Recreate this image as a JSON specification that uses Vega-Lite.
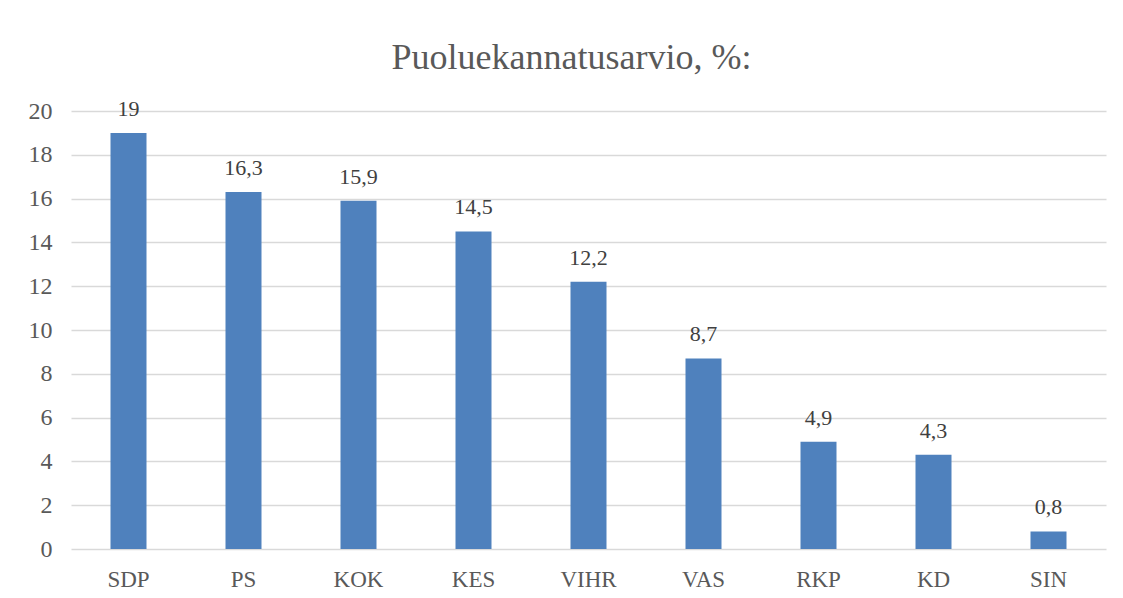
{
  "$schema": "https://vega.github.io/schema/vega-lite/v6.json",
  "width": 1035,
  "height": 438,
  "autosize": "none",
  "padding": {"left": 71, "top": 111, "right": 17, "bottom": 49},
  "background": "white",
  "title": {
    "text": "Puoluekannatusarvio, %:",
    "font": "Liberation Serif",
    "fontSize": 36,
    "fontWeight": "normal",
    "color": "#595959",
    "anchor": "middle",
    "baseline": "alphabetic",
    "offset": -7,
    "dx": -17
  },
  "data": {
    "values": [
      {"puolue": "SDP", "arvo": 19, "label": "19"},
      {"puolue": "PS", "arvo": 16.3, "label": "16,3"},
      {"puolue": "KOK", "arvo": 15.9, "label": "15,9"},
      {"puolue": "KES", "arvo": 14.5, "label": "14,5"},
      {"puolue": "VIHR", "arvo": 12.2, "label": "12,2"},
      {"puolue": "VAS", "arvo": 8.7, "label": "8,7"},
      {"puolue": "RKP", "arvo": 4.9, "label": "4,9"},
      {"puolue": "KD", "arvo": 4.3, "label": "4,3"},
      {"puolue": "SIN", "arvo": 0.8, "label": "0,8"}
    ]
  },
  "encoding": {
    "x": {
      "field": "puolue",
      "type": "nominal",
      "sort": null,
      "scale": {"paddingInner": 0.687, "paddingOuter": 0.3435},
      "axis": {
        "title": null,
        "labelAngle": 0,
        "domain": false,
        "ticks": false,
        "labelFont": "Liberation Serif",
        "labelFontSize": 23,
        "labelColor": "#595959",
        "labelPadding": 19
      }
    },
    "y": {
      "field": "arvo",
      "type": "quantitative",
      "scale": {"domain": [0, 20], "nice": false},
      "axis": {
        "title": null,
        "values": [0, 2, 4, 6, 8, 10, 12, 14, 16, 18, 20],
        "domain": false,
        "ticks": false,
        "grid": true,
        "gridColor": "#d9d9d9",
        "gridWidth": 1.5,
        "labelFont": "Liberation Serif",
        "labelFontSize": 24,
        "labelColor": "#595959",
        "labelPadding": 19
      }
    }
  },
  "layer": [
    {"mark": {"type": "bar", "color": "#4F81BD"}},
    {
      "mark": {
        "type": "text",
        "font": "Liberation Serif",
        "fontSize": 22,
        "color": "#404040",
        "baseline": "alphabetic",
        "dy": -17
      },
      "encoding": {"text": {"field": "label"}}
    }
  ],
  "config": {"view": {"stroke": null}}
}
